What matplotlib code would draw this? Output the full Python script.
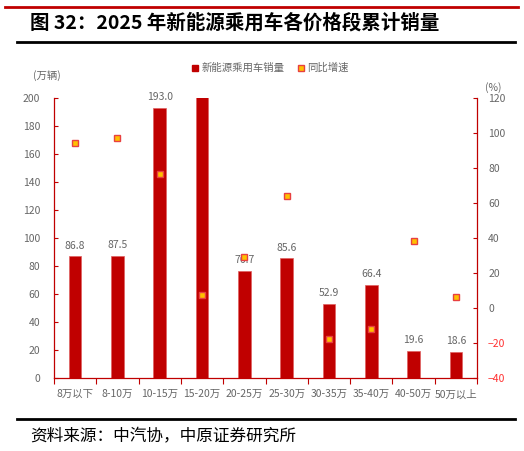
import numpy as np
import matplotlib.pyplot as plt
from matplotlib.lines import Line2D

plt.rcParams['font.family'] = ['Noto Sans CJK SC', 'DejaVu Sans']

categories = ["8万以下", "8-10万", "10-15万", "15-20万", "20-25万",
              "25-30万", "30-35万", "35-40万", "40-50万", "50万以上"]
sales = [86.8, 87.5, 193.0, 262.0, 76.7, 85.6, 52.9, 66.4, 19.6, 18.6]
growth = [94.1, 97.3, 76.4, 7.2, 29.3, 64.2, -17.7, -12.0, 38.5, 6.1]

red = "#C00000"
gray = "#666666"

fig = plt.figure(figsize=(5.24, 4.51), dpi=100)
ax = fig.add_axes([54 / 524, 1 - 378 / 451, 423 / 524, 280 / 451])
ax2 = ax.twinx()

x = np.arange(len(categories))
ax.bar(x, sales, width=0.3, color=red, edgecolor="#E06060", linewidth=0.5, zorder=2)
for xi, v in zip(x, sales):
    if v <= 200:
        ax.text(xi, v + 4, f"{v:.1f}", ha="center", va="bottom", fontsize=7.5, color=gray, zorder=3)

ax2.plot(x, growth, linestyle="none", marker="s", markersize=5,
         markerfacecolor="#FFC000", markeredgecolor="#E84040", markeredgewidth=1.0, zorder=5)

ax.set_xlim(-0.5, len(categories) - 0.5)
ax.set_ylim(0, 200)
ax.set_yticks(range(0, 201, 20))
ax2.set_ylim(-40, 120)
ax2.set_yticks(range(-40, 121, 20))
ax.set_zorder(1)
ax2.set_zorder(2)
ax2.patch.set_visible(False)

ax.set_xticks(np.arange(-0.5, len(categories), 1), minor=False)
ax.set_xticklabels([])
ax.set_xticks(x, minor=True)
ax.set_xticklabels(categories, minor=True, fontsize=7.5, color=gray)
ax.tick_params(axis="x", which="major", direction="out", length=4, color=red, width=0.8)
ax.tick_params(axis="x", which="minor", length=0, pad=8)
ax.tick_params(axis="y", direction="in", length=3, color=red, width=0.8, labelsize=7.5,
               labelcolor=gray, pad=10)
ax2.tick_params(axis="y", direction="in", length=3, color=red, width=0.8, labelsize=7.5,
                labelcolor=gray, pad=8)
for lbl, val in zip(ax2.get_yticklabels(), ax2.get_yticks()):
    if val < 0:
        lbl.set_color("#FF3030")

for s in ["top"]:
    ax.spines[s].set_visible(False)
    ax2.spines[s].set_visible(False)
ax2.spines["left"].set_visible(False)
ax2.spines["bottom"].set_visible(False)
ax.spines["right"].set_visible(False)
for s in ["left", "bottom"]:
    ax.spines[s].set_color(red)
    ax.spines[s].set_linewidth(0.9)
ax2.spines["right"].set_color(red)
ax2.spines["right"].set_linewidth(0.9)

handles = [
    Line2D([], [], linestyle="none", marker="s", markersize=5, markerfacecolor=red, markeredgecolor=red),
    Line2D([], [], linestyle="none", marker="s", markersize=5, markerfacecolor="#FFC000",
           markeredgecolor="#E84040", markeredgewidth=1.0),
]
fig.legend(handles, ["新能源乘用车销量", "同比增速"], loc="center", bbox_to_anchor=(270 / 524, 1 - 68 / 451),
           ncol=2, frameon=False, fontsize=7.5, labelcolor=gray, handletextpad=0.2,
           columnspacing=1.2, handlelength=0.8)

fig.text(33 / 524, 1 - 76 / 451, "(万辆)", fontsize=7.5, color=gray, va="center")
fig.text(485 / 524, 1 - 88 / 451, "(%)", fontsize=7.5, color=gray, va="center")

# title and frame lines
fig.add_artist(Line2D([5 / 524, 518 / 524], [1 - 7 / 451, 1 - 7 / 451], color=red, linewidth=2))
fig.text(30 / 524, 1 - 23 / 451, "图 32：2025 年新能源乘用车各价格段累计销量", fontsize=14,
         fontweight="bold", va="center", color="black")
fig.add_artist(Line2D([17 / 524, 515 / 524], [1 - 42 / 451, 1 - 42 / 451], color="black", linewidth=2))
fig.add_artist(Line2D([17 / 524, 515 / 524], [1 - 419 / 451, 1 - 419 / 451], color="black", linewidth=2))
fig.text(30 / 524, 1 - 437 / 451, "资料来源：中汽协，中原证券研究所", fontsize=12, va="center", color="black")

fig.savefig("out.png", dpi=100)
